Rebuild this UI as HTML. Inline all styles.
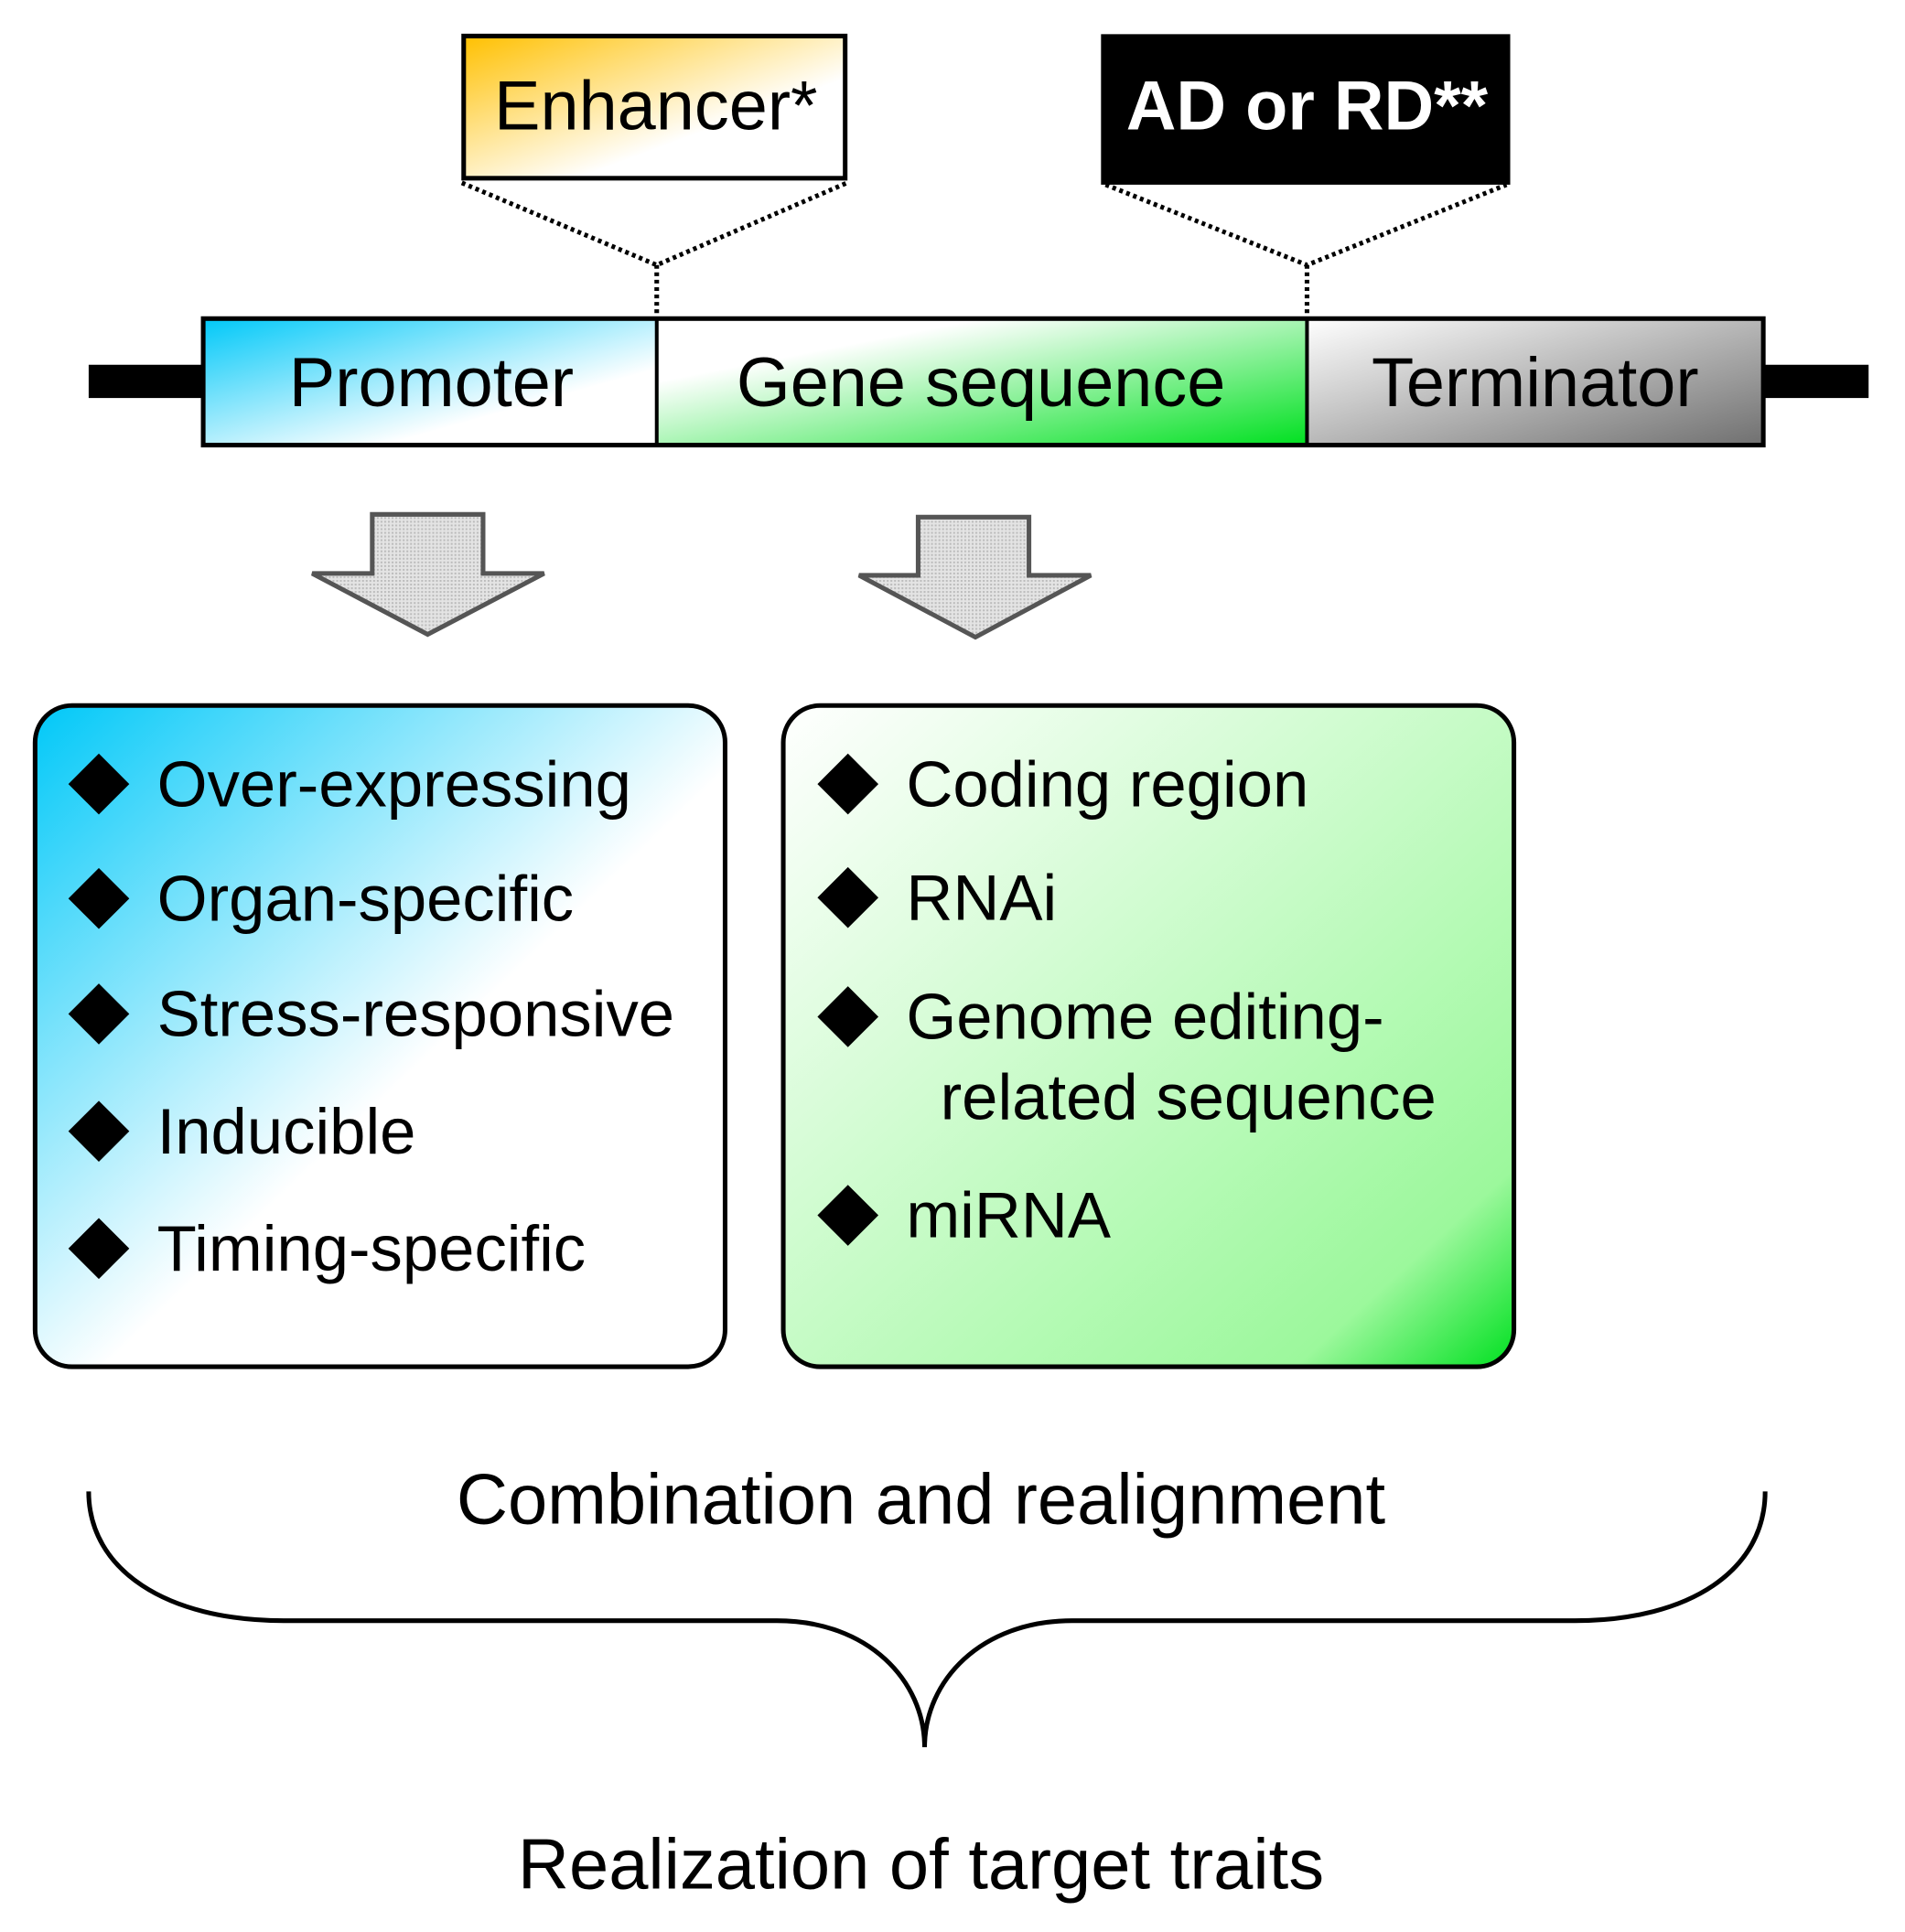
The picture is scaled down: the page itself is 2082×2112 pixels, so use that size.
<!DOCTYPE html>
<html><head><meta charset="utf-8"><style>
html,body{margin:0;padding:0;background:#fff;}
svg{display:block;}
text{font-family:"Liberation Sans",sans-serif;fill:#000;}
</style></head><body>
<svg width="2082" height="2112" viewBox="0 0 2082 2112" xmlns="http://www.w3.org/2000/svg">
<defs>
<linearGradient id="enh" x1="0" y1="0" x2="1" y2="1"><stop offset="0" stop-color="#ffc000"/><stop offset="0.65" stop-color="#fff"/></linearGradient>
<linearGradient id="pro" x1="0" y1="0" x2="1" y2="1"><stop offset="0" stop-color="#00c8f8"/><stop offset="0.7" stop-color="#fff"/></linearGradient>
<linearGradient id="gen" x1="0" y1="0" x2="1" y2="1"><stop offset="0.25" stop-color="#fff"/><stop offset="1" stop-color="#00e020"/></linearGradient>
<linearGradient id="ter" x1="0" y1="0" x2="1" y2="1"><stop offset="0" stop-color="#fff"/><stop offset="1" stop-color="#707070"/></linearGradient>
<linearGradient id="lb" x1="0" y1="0" x2="1" y2="1"><stop offset="0" stop-color="#00c8f8"/><stop offset="0.55" stop-color="#fff"/></linearGradient>
<linearGradient id="rb" x1="0" y1="0" x2="1" y2="1"><stop offset="0" stop-color="#fff"/><stop offset="0.85" stop-color="#9cf89c"/><stop offset="1" stop-color="#00e020"/></linearGradient>
<pattern id="dots" width="4" height="4" patternUnits="userSpaceOnUse"><rect width="4" height="4" fill="#e4e4e4"/><rect width="2" height="2" fill="#bbb"/></pattern>
</defs>
<g transform="scale(1.0095)">
<rect x="502" y="39" width="413" height="154" fill="url(#enh)" stroke="#000" stroke-width="5"/>
<text x="710" y="140" font-size="75" text-anchor="middle">Enhancer*</text>
<rect x="1192" y="37" width="443" height="163" fill="#000"/>
<text x="1415" y="140" font-size="75" font-weight="bold" text-anchor="middle" style="fill:#fff">AD or RD**</text>

<g stroke="#000" stroke-width="5" stroke-dasharray="4 4" fill="none">
<polyline points="500,198 711,287 917,198"/>
<line x1="711" y1="287" x2="711" y2="343"/>
<polyline points="1197,200 1415,287 1631,200"/>
<line x1="1415" y1="287" x2="1415" y2="343"/>
</g>

<rect x="96" y="395" width="124" height="36" fill="#000"/>
<rect x="1909" y="395" width="114" height="36" fill="#000"/>
<rect x="220" y="345" width="491" height="137" fill="url(#pro)"/>
<rect x="711" y="345" width="704" height="137" fill="url(#gen)"/>
<rect x="1415" y="345" width="494" height="137" fill="url(#ter)"/>
<rect x="220" y="345" width="1689" height="137" fill="none" stroke="#000" stroke-width="5"/>
<line x1="711" y1="345" x2="711" y2="482" stroke="#000" stroke-width="4"/>
<line x1="1415" y1="345" x2="1415" y2="482" stroke="#000" stroke-width="4"/>
<text x="467" y="440" font-size="75" text-anchor="middle">Promoter</text>
<text x="1062" y="440" font-size="75" text-anchor="middle">Gene sequence</text>
<text x="1662" y="440" font-size="75" text-anchor="middle">Terminator</text>

<polygon points="403,557 523,557 523,621 589,621 463,687 338,621 403,621" fill="url(#dots)" stroke="#555" stroke-width="5"/>
<polygon points="994,560 1114,560 1114,623 1181,623 1056,690 930,623 994,623" fill="url(#dots)" stroke="#555" stroke-width="5"/>

<rect x="38" y="764" width="747" height="716" rx="40" fill="url(#lb)" stroke="#000" stroke-width="5"/>
<rect x="848" y="764" width="791" height="716" rx="40" fill="url(#rb)" stroke="#000" stroke-width="5"/>

<g font-size="70">
<polygon points="107,816 140,849 107,882 74,849"/><text x="170" y="873">Over-expressing</text>
<polygon points="107,940 140,973 107,1006 74,973"/><text x="170" y="997">Organ-specific</text>
<polygon points="107,1065 140,1098 107,1131 74,1098"/><text x="170" y="1122">Stress-responsive</text>
<polygon points="107,1192 140,1225 107,1258 74,1225"/><text x="170" y="1249">Inducible</text>
<polygon points="107,1319 140,1352 107,1385 74,1352"/><text x="170" y="1376">Timing-specific</text>

<polygon points="918,816 951,849 918,882 885,849"/><text x="981" y="873">Coding region</text>
<polygon points="918,939 951,972 918,1005 885,972"/><text x="981" y="996">RNAi</text>
<polygon points="918,1068 951,1101 918,1134 885,1101"/><text x="981" y="1125">Genome editing-</text>
<text x="1018" y="1212">related sequence</text>
<polygon points="918,1283 951,1316 918,1349 885,1316"/><text x="981" y="1340">miRNA</text>
</g>

<text x="997" y="1650" font-size="77" text-anchor="middle">Combination and realignment</text>
<path d="M96,1615 C96,1700 180,1755 307,1755 L841,1755 C940,1755 1001,1820 1001,1892 C1001,1820 1062,1755 1161,1755 L1705,1755 C1830,1755 1911,1700 1911,1615" fill="none" stroke="#000" stroke-width="5"/>
<text x="997" y="2045" font-size="77" text-anchor="middle">Realization of target traits</text>
</g>
</svg>
</body></html>
